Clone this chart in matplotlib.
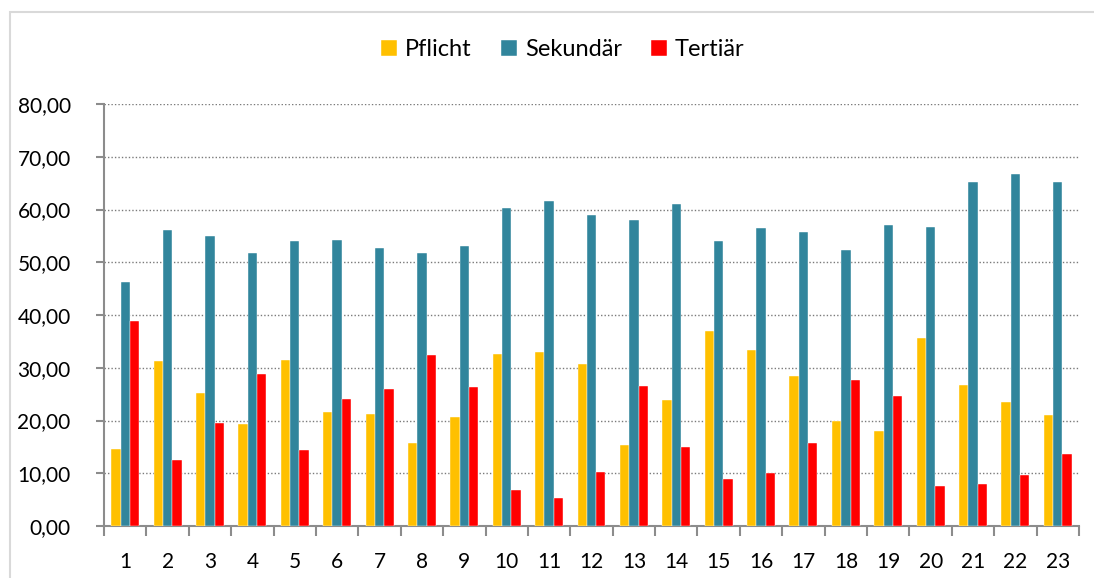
import matplotlib.pyplot as plt
from matplotlib.patches import Rectangle
from matplotlib.ticker import FixedLocator, FuncFormatter
import numpy as np

plt.rcParams['font.family'] = ['Lato', 'DejaVu Sans']

groups = list(range(1, 24))
pflicht = [14.6, 31.2, 25.2, 19.3, 31.4, 21.7, 21.3, 15.7, 20.6, 32.7, 32.9, 30.8,
           15.4, 23.9, 37.0, 33.4, 28.4, 20.0, 18.1, 35.6, 26.7, 23.6, 21.0]
sekundaer = [46.3, 56.1, 55.0, 51.8, 54.0, 54.2, 52.7, 51.8, 53.0, 60.3, 61.7, 58.9,
             58.0, 61.0, 54.0, 56.4, 55.7, 52.3, 57.1, 56.6, 65.2, 66.7, 65.3]
tertiaer = [38.9, 12.5, 19.6, 28.8, 14.5, 24.1, 26.0, 32.4, 26.3, 6.8, 5.3, 10.2,
            26.5, 15.0, 8.9, 10.0, 15.7, 27.7, 24.7, 7.6, 8.0, 9.6, 13.6]

series = [("Pflicht", pflicht, "#FFC000"),
          ("Sekundär", sekundaer, "#31859C"),
          ("Tertiär", tertiaer, "#FF0000")]

fig = plt.figure(figsize=(10.94, 5.78), dpi=100)
ax = fig.add_axes([104 / 1094, 52 / 578, 975 / 1094, 422 / 578])

# light frame around the whole chart
fig.patches.append(Rectangle((10 / 1094, -0.05), 1.1, 1 - 12 / 578 + 0.05,
                             transform=fig.transFigure, fill=False,
                             edgecolor="#d9d9d9", linewidth=1.5))

x = np.array(groups, dtype=float)
w = 0.22
for i, (name, vals, col) in enumerate(series):
    ax.bar(x + (i - 1) * w, vals, width=w, color=col, label=name,
           edgecolor="#ffffff", linewidth=0.3, zorder=3)

ax.set_xlim(0.5, 23.5)
ax.set_ylim(0, 80)
ax.set_yticks(np.arange(0, 81, 10))
ax.yaxis.set_major_formatter(FuncFormatter(lambda v, p: f"{v:.2f}".replace(".", ",")))
ax.set_xticks(x)
ax.set_xticklabels([str(g) for g in groups])
ax.xaxis.set_minor_locator(FixedLocator(np.arange(0.5, 24, 1)))

ax.grid(axis="y", linestyle=(0, (1, 1.5)), color="#7a7a7a", linewidth=1.0, zorder=0)
for s in ["top", "right"]:
    ax.spines[s].set_visible(False)
for s in ["left", "bottom"]:
    ax.spines[s].set_color("#8c8c8c")
    ax.spines[s].set_linewidth(1.5)

ax.tick_params(axis="x", which="major", length=0, pad=19, labelsize=15)
ax.tick_params(axis="x", which="minor", length=7, width=1.5, color="#8c8c8c")
ax.tick_params(axis="y", length=6, width=1.5, color="#8c8c8c", pad=18, labelsize=15)

fig.legend(loc="center", bbox_to_anchor=(563 / 1094, 1 - 50 / 578), ncol=3,
           frameon=False, fontsize=17, handlelength=0.65, handleheight=0.65,
           handletextpad=0.35, columnspacing=1.25)

fig.savefig("out.png", dpi=100, facecolor="white")
